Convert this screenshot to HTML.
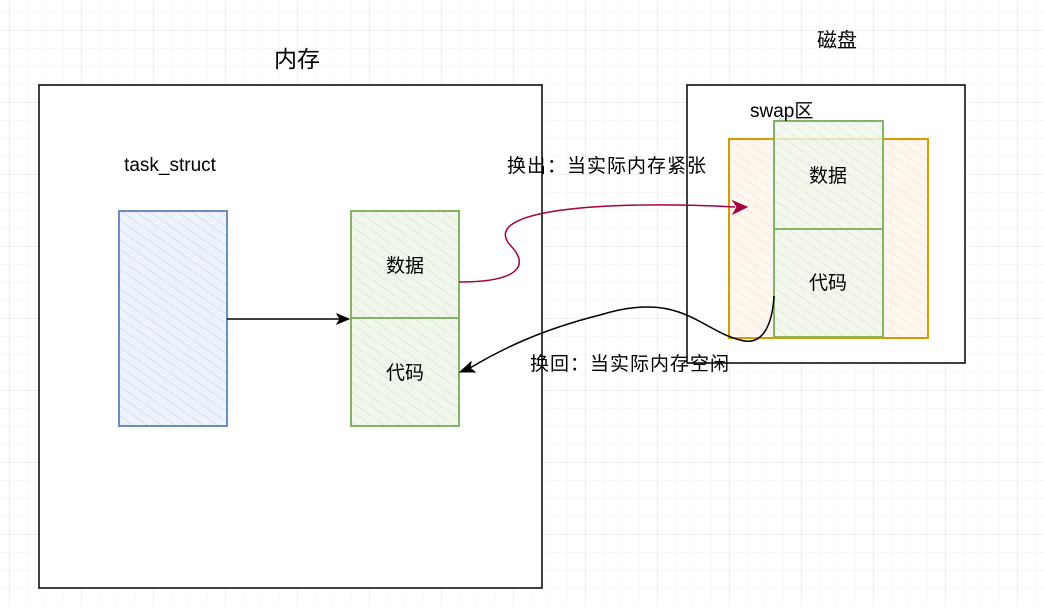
<!DOCTYPE html>
<html><head><meta charset="utf-8"><style>
body{margin:0;background:#fff}
text{font-family:"Liberation Sans","Noto Sans CJK SC",sans-serif;fill:#000}
</style></head><body>
<svg width="1044" height="606" xmlns="http://www.w3.org/2000/svg">
<defs>
<pattern id="minor" width="18" height="18" patternUnits="userSpaceOnUse" x="9" y="12">
<path d="M0 0H18M0 0V18" stroke="#f0f0f0" stroke-width="1" fill="none"/></pattern>
<pattern id="major" width="72" height="72" patternUnits="userSpaceOnUse" x="9" y="30">
<path d="M0 0H72M0 0V72" stroke="#dcdcdc" stroke-width="1" fill="none"/></pattern>
<pattern id="hb" width="8" height="8" patternUnits="userSpaceOnUse" patternTransform="rotate(-55)">
<rect width="8" height="8" fill="#eef3fb"/><line x1="0" y1="0" x2="0" y2="8" stroke="#c3d3ee" stroke-width="1.2"/></pattern>
<pattern id="hg" width="8" height="8" patternUnits="userSpaceOnUse" patternTransform="rotate(-55)">
<rect width="8" height="8" fill="#f0f6ec"/><line x1="0" y1="0" x2="0" y2="8" stroke="#cfe4c3" stroke-width="1.2"/></pattern>
<pattern id="ho" width="8" height="8" patternUnits="userSpaceOnUse" patternTransform="rotate(-55)">
<rect width="8" height="8" fill="#fef7f0"/><line x1="0" y1="0" x2="0" y2="8" stroke="#fbdcc4" stroke-width="1.2"/></pattern>
</defs>
<rect width="1044" height="606" fill="url(#minor)"/>
<rect width="1044" height="606" fill="url(#major)"/>
<rect x="39" y="85" width="503" height="503" fill="#fff" stroke="#000" stroke-width="1.5"/>
<rect x="687" y="85" width="278" height="278" fill="#fff" stroke="#000" stroke-width="1.5"/>
<text x="297" y="67" font-size="23" text-anchor="middle">内存</text>
<text x="837" y="47" font-size="20" text-anchor="middle">磁盘</text>
<text x="170" y="171" font-size="19" text-anchor="middle">task_struct</text>
<rect x="119" y="211" width="108" height="215" fill="url(#hb)" stroke="#6c8ebf" stroke-width="2"/>
<rect x="351" y="211" width="108" height="107" fill="url(#hg)" stroke="#82b366" stroke-width="2"/>
<rect x="351" y="318" width="108" height="108" fill="url(#hg)" stroke="#82b366" stroke-width="2"/>
<text x="405" y="272" font-size="19" text-anchor="middle">数据</text>
<text x="405" y="379" font-size="19" text-anchor="middle">代码</text>
<rect x="729" y="139" width="199" height="199" fill="url(#ho)" stroke="#d79b00" stroke-width="2"/>
<rect x="774" y="121" width="109" height="108" fill="url(#hg)" fill-opacity="0.8" stroke="#82b366" stroke-width="2"/>
<rect x="774" y="229" width="109" height="108" fill="url(#hg)" fill-opacity="0.8" stroke="#82b366" stroke-width="2"/>
<text x="828" y="182" font-size="19" text-anchor="middle">数据</text>
<text x="828" y="289" font-size="19" text-anchor="middle">代码</text>
<text x="750" y="117" font-size="19">swap区</text>
<line x1="227" y1="319" x2="340" y2="319" stroke="#000" stroke-width="1.5"/>
<path d="M349 319 L337 314 L340 319 L337 324 Z" fill="#000" stroke="#000"/>
<path d="M459 282 C520 282 530 265 510 245 C480 210 600 200 735 207" fill="none" stroke="#a50040" stroke-width="1.5"/>
<path d="M747 207 L733 201 L737 207 L733 214 Z" fill="#a50040" stroke="#a50040"/>
<path d="M774 296 C772 330 760 346 740 340 C700 330 680 290 600 315 C540 330 500 350 470 368" fill="none" stroke="#000" stroke-width="1.5"/>
<path d="M460 372 L471 362 L470 368 L475 372 Z" fill="#000" stroke="#000"/>
<text x="507" y="172" font-size="19" textLength="199">换出：当实际内存紧张</text>
<text x="530" y="370" font-size="19" textLength="199">换回：当实际内存空闲</text>
</svg>
</body></html>
